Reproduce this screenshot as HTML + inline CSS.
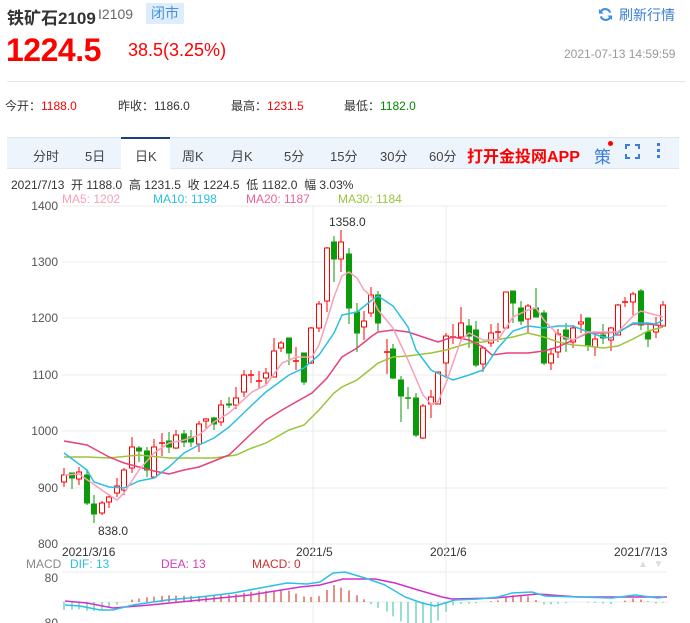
<!DOCTYPE html>
<html><head><meta charset="utf-8"><style>
body{margin:0;width:690px;height:623px;overflow:hidden;background:#fff;font-family:"Liberation Sans","Noto Sans CJK SC",sans-serif;position:relative}
.a{position:absolute;white-space:nowrap}
</style></head><body>
<div class="a" style="left:7px;top:4px;font-size:17px;font-weight:bold;color:#333">铁矿石2109</div>
<div class="a" style="left:98px;top:6px;font-size:14px;color:#666">I2109</div>
<div class="a" style="left:146px;top:3px;width:38px;height:21px;background:#deedfb;color:#4a90d9;font-size:14px;line-height:21px;text-align:center">闭市</div>
<svg class="a" style="left:598px;top:7px" width="15" height="15" viewBox="0 0 16 16"><path d="M13 6A5.5 5.5 0 0 0 3 5M3 10a5.5 5.5 0 0 0 10 1" fill="none" stroke="#3a8ee6" stroke-width="2.2"/><path d="M1 2v5h5zM15 14V9h-5z" fill="#3a8ee6"/></svg>
<div class="a" style="left:619px;top:5px;font-size:14px;color:#3a7fd5">刷新行情</div>
<div class="a" style="left:6px;top:32px;font-size:32px;font-weight:bold;color:#f00;letter-spacing:-0.5px">1224.5</div>
<div class="a" style="left:128px;top:40px;font-size:18px;color:#f00">38.5(3.25%)</div>
<div class="a" style="left:564px;top:47px;font-size:12px;color:#999">2021-07-13 14:59:59</div>
<div class="a" style="left:7px;top:81px;width:679px;height:1px;background:#e6e6e6"></div>
<div class="a" style="left:5px;top:97px;font-size:12px;color:#333">今开：<span style="color:#f00">1188.0</span></div>
<div class="a" style="left:118px;top:97px;font-size:12px;color:#333">昨收：1186.0</div>
<div class="a" style="left:231px;top:97px;font-size:12px;color:#333">最高：<span style="color:#f00">1231.5</span></div>
<div class="a" style="left:344px;top:97px;font-size:12px;color:#333">最低：<span style="color:#080">1182.0</span></div>
<div class="a" style="left:7px;top:137px;width:672px;height:30px;background:#eef4fc;border-top:1px solid #dfe6ef;border-bottom:1px solid #dfe6ef"></div>
<div class="a" style="left:121px;top:137px;width:49px;height:31px;background:#fff;border-top:2px solid #1d3f7a"></div>
<div class="a" style="top:146px;left:0;width:690px;font-size:13px;color:#444">
<span class="a" style="left:33px">分时</span><span class="a" style="left:85px">5日</span><span class="a" style="left:135px">日K</span><span class="a" style="left:182px">周K</span><span class="a" style="left:231px">月K</span><span class="a" style="left:284px">5分</span><span class="a" style="left:330px">15分</span><span class="a" style="left:380px">30分</span><span class="a" style="left:429px">60分</span></div>
<div class="a" style="left:467px;top:143px;font-size:16px;font-weight:bold;color:#f00">打开金投网APP</div>
<div class="a" style="left:594px;top:143px;font-size:17px;color:#3a7fd5">策</div>
<div class="a" style="left:608px;top:141px;width:5px;height:5px;border-radius:50%;background:#f00"></div>
<svg class="a" style="left:625px;top:144px" width="15" height="15"><path d="M1 5V1h4M10 1h4v4M14 10v4h-4M5 14H1v-4" fill="none" stroke="#3a7fd5" stroke-width="2"/></svg>
<div class="a" style="left:657px;top:143px;width:3px;height:3px;background:#3a7fd5;box-shadow:0 6px #3a7fd5,0 12px #3a7fd5"></div>
<div class="a" style="left:11px;top:176px;font-size:12px;color:#333">2021/7/13&nbsp; 开 1188.0&nbsp; 高 1231.5&nbsp; 收 1224.5&nbsp; 低 1182.0&nbsp; 幅 3.03%</div>
<div class="a" style="left:62px;top:192px;font-size:12px;color:#f9a0b8">MA5: 1202</div>
<div class="a" style="left:153px;top:192px;font-size:12px;color:#2bc0e0">MA10: 1198</div>
<div class="a" style="left:246px;top:192px;font-size:12px;color:#f06090">MA20: 1187</div>
<div class="a" style="left:338px;top:192px;font-size:12px;color:#9cc43a">MA30: 1184</div>
<div class="a" style="left:11px;top:545px;font-size:12px;color:#333;left:62px">2021/3/16</div>
<div class="a" style="left:296px;top:545px;font-size:12px;color:#333">2021/5</div>
<div class="a" style="left:430px;top:545px;font-size:12px;color:#333">2021/6</div>
<div class="a" style="left:614px;top:545px;font-size:12px;color:#333">2021/7/13</div>
<div class="a" style="left:26px;top:557px;font-size:12px;color:#888">MACD</div>
<div class="a" style="left:70px;top:557px;font-size:12px;color:#2bc0e0">DIF: 13</div>
<div class="a" style="left:161px;top:557px;font-size:12px;color:#d040c0">DEA: 13</div>
<div class="a" style="left:252px;top:557px;font-size:12px;color:#d03030">MACD: 0</div>
<div class="a" style="left:638px;top:559px;font-size:10px;color:#ddd">▲&nbsp;&nbsp;▼</div>
<svg id="s" class="a" style="left:0;top:0" width="690" height="623"></svg>
<script>
var C=[[64,475,482,468,487,1],[72,473,478,473,489,0],[79,472,479,467,485,1],[87,475,503,469,505,0],[94,504,514,495,523,0],[102,503,513,501,515,1],[109,497,502,494,508,1],[117,486,493,478,497,1],[124,470,490,468,495,1],[132,447,468,437,473,1],[139,448,451,446,462,0],[147,451,470,447,477,0],[154,447,477,439,477,1],[162,443,443,433,456,1],[169,441,447,432,453,0],[176,435,448,430,449,1],[184,434,442,430,447,0],[191,437,442,430,447,0],[199,424,444,421,452,1],[206,419,421,418,428,1],[214,418,424,417,430,0],[221,405,422,400,426,1],[229,404,405,397,408,0],[236,398,405,387,409,1],[244,375,392,370,397,1],[251,375,375,370,383,1],[259,381,381,371,389,1],[266,373,378,368,385,1],[274,351,377,338,377,1],[281,343,348,341,352,1],[289,338,353,338,365,0],[296,361,361,347,370,1],[304,353,382,353,385,0],[311,328,363,327,364,1],[319,304,328,301,332,1],[327,248,301,247,312,1],[334,242,259,236,282,0],[341,242,259,230,272,1],[349,254,308,248,324,0],[357,312,333,303,352,0],[364,321,327,311,340,1],[371,295,313,287,317,1],[378,295,323,291,331,0],[387,352,352,339,374,1],[393,349,378,344,379,0],[401,380,396,376,422,0],[408,398,398,387,409,0],[416,398,435,393,437,0],[423,406,438,404,439,1],[431,397,404,390,418,1],[438,372,404,372,404,1],[446,336,363,333,378,1],[453,337,337,324,344,1],[461,323,337,307,342,1],[469,326,336,319,348,0],[476,330,365,321,367,0],[483,348,364,347,372,1],[491,333,343,324,347,1],[498,332,332,323,342,1],[506,292,328,292,328,1],[513,291,303,291,323,0],[521,308,321,301,325,0],[528,306,319,304,333,1],[536,308,317,288,317,0],[544,313,363,310,365,0],[551,354,363,348,370,1],[558,334,352,329,358,1],[566,330,339,323,352,0],[573,328,342,325,348,1],[581,322,324,314,333,1],[588,318,345,318,351,0],[595,339,347,333,356,1],[603,335,338,324,344,0],[611,328,340,327,351,1],[618,305,335,304,335,1],[625,302,302,297,307,1],[633,294,302,292,315,1],[641,291,325,289,330,0],[648,332,339,324,347,0],[656,325,332,317,338,1],[663,305,326,301,326,1]];
var MA5=[[64,475],[79,474],[109,495],[117,500],[124,493],[139,470],[154,453],[169,443],[184,440],[199,435],[214,422],[229,413],[252,392],[266,385],[282,363],[296,357],[312,357],[319,345],[327,320],[334,297],[342,276],[349,272],[357,278],[364,290],[372,297],[378,310],[393,328],[408,360],[423,395],[431,404],[438,402],[446,383],[461,340],[469,333],[483,340],[498,340],[513,317],[528,310],[536,308],[544,320],[558,335],[573,340],[588,332],[603,332],[618,332],[633,316],[641,311],[656,315],[663,317]];
var MA10=[[64,453],[87,470],[94,482],[109,487],[124,488],[139,481],[154,478],[169,467],[184,453],[199,445],[214,438],[229,427],[252,405],[266,392],[289,375],[304,368],[319,355],[334,333],[342,315],[357,312],[372,300],[378,296],[393,306],[408,327],[416,350],[431,370],[446,377],[453,380],[469,375],[483,370],[498,348],[513,331],[528,326],[544,328],[558,326],[573,326],[588,332],[603,337],[611,338],[618,333],[633,323],[648,323],[656,324],[663,320]];
var MA20=[[64,441],[87,445],[109,457],[124,463],[139,467],[154,471],[169,474],[184,470],[199,467],[214,461],[229,455],[252,433],[266,420],[282,410],[296,402],[312,393],[327,378],[342,357],[357,348],[372,336],[378,332],[393,330],[408,332],[423,337],[438,342],[453,337],[469,340],[483,347],[492,355],[507,353],[528,353],[544,351],[558,347],[573,340],[588,333],[603,333],[618,332],[633,324],[648,324],[663,326]];
var MA30=[[64,457],[87,457],[109,458],[139,455],[169,458],[199,458],[214,458],[236,455],[252,448],[266,443],[289,430],[304,425],[319,410],[334,393],[342,387],[357,380],[372,368],[378,363],[393,357],[408,356],[431,353],[446,350],[469,343],[483,342],[513,337],[528,333],[544,337],[558,342],[573,345],[588,346],[603,348],[618,346],[633,339],[648,331],[663,327]];
var DIF=[[65,605],[80,606],[100,610],[113,610],[133,605],[167,600],[200,597],[233,593],[260,588],[287,583],[307,584],[320,582],[333,573],[345,572],[365,578],[385,585],[405,597],[422,603],[435,606],[445,603],[455,600],[478,599],[498,597],[512,593],[532,592],[545,596],[578,597],[612,598],[635,595],[658,598],[665,597]];
var DEA=[[65,601],[87,603],[113,608],[150,605],[200,600],[250,595],[300,587],[320,585],[343,579],[375,579],[395,583],[418,590],[442,597],[452,599],[495,598],[538,594],[578,597],[612,597],[667,597]];
function interp(a,x){if(x<=a[0][0])return a[0][1];for(var i=1;i<a.length;i++)if(x<=a[i][0]){var p=a[i-1],q=a[i];return p[1]+(q[1]-p[1])*(x-p[0])/(q[0]-p[0]);}return a[a.length-1][1];}
var h='';
var G='#ebebeb';
[206,262,318,375,431,488,544].forEach(function(y,i){h+='<line x1="62" x2="667" y1="'+y+'" y2="'+y+'" stroke="'+G+'"/>';h+='<text x="58" y="'+(y+4)+'" text-anchor="end" font-size="12" fill="#555">'+(1400-i*100)+'</text>';});
[313,446].forEach(function(x){h+='<line x1="'+x+'" x2="'+x+'" y1="206" y2="623" stroke="'+G+'"/>';});
h+='<line x1="62" x2="667" y1="572" y2="572" stroke="'+G+'"/><line x1="62" x2="667" y1="602" y2="602" stroke="'+G+'"/>';
h+='<text x="58" y="582" text-anchor="end" font-size="12" fill="#555">80</text><text x="58" y="627" text-anchor="end" font-size="12" fill="#555">-80</text>';
function pl(a,c,w){return '<polyline fill="none" stroke="'+c+'" stroke-width="'+w+'" points="'+a.map(function(p){return p.join(',')}).join(' ')+'"/>';}
C.forEach(function(c){var d=2*(interp(DEA,c[0])-interp(DIF,c[0]));if(Math.abs(d)<0.5)return;var col=d>0?'#c8200a':'#2ec09a';h+='<line x1="'+c[0]+'" x2="'+c[0]+'" y1="602" y2="'+(602-d)+'" stroke="'+col+'" stroke-width="1"/>';});
h+=pl(DEA,'#d030c8',1.5)+pl(DIF,'#2bc0e8',1.5);
C.forEach(function(c){var x=c[0],col=c[5]?'#f00':'#0a9a0a';h+='<line x1="'+x+'" x2="'+x+'" y1="'+c[3]+'" y2="'+c[4]+'" stroke="'+col+'"/>';var t=Math.min(c[1],c[2]),b=Math.max(c[1],c[2]);if(b-t<1){h+='<line x1="'+(x-3)+'" x2="'+(x+3)+'" y1="'+t+'" y2="'+t+'" stroke="'+col+'" stroke-width="1.5"/>';}else h+='<rect x="'+(x-2.5)+'" y="'+t+'" width="5" height="'+(b-t)+'" fill="'+(c[5]?'#fff':col)+'" stroke="'+col+'"/>';});
h+=pl(MA30,'#9cc43a',1.5)+pl(MA20,'#e8407a',1.5)+pl(MA10,'#2bc0e0',1.5)+pl(MA5,'#f8a0b8',1.5);
h+='<text x="329" y="226" font-size="12" fill="#333">1358.0</text><text x="98" y="535" font-size="12" fill="#333">838.0</text>';
document.getElementById('s').innerHTML=h;
</script>
</body></html>
